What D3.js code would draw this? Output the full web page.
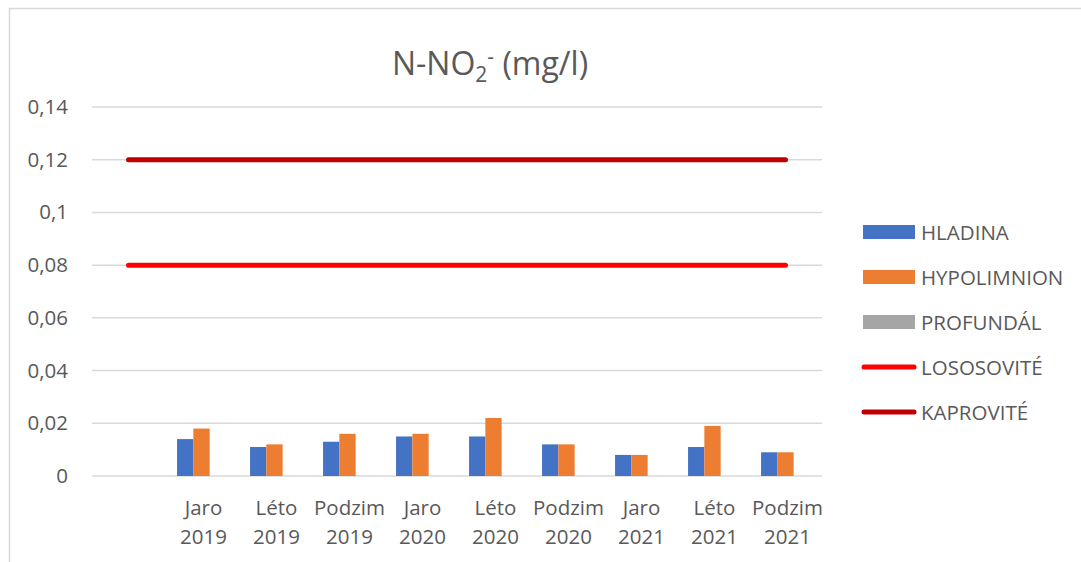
<!DOCTYPE html>
<html>
<head>
<meta charset="utf-8">
<script src="https://cdn.jsdelivr.net/npm/d3@7"></script>
<style>
  body { margin: 0; background: #fff; }
  svg { display: block; font-family: "Open Sans", sans-serif; }
</style>
</head>
<body>
<svg width="1081" height="562"></svg>
<script>
// categories (first one is an empty slot, as in the original sheet)
var categories = ["", "Jaro 2019", "Léto 2019", "Podzim 2019", "Jaro 2020", "Léto 2020",
                  "Podzim 2020", "Jaro 2021", "Léto 2021", "Podzim 2021"];
var hladina     = [null, 0.014, 0.011, 0.013, 0.015, 0.015, 0.012, 0.008, 0.011, 0.009];
var hypolimnion = [null, 0.018, 0.012, 0.016, 0.016, 0.022, 0.012, 0.008, 0.019, 0.009];
var profundal   = [null, 0, 0, 0, 0, 0, 0, 0, 0, 0];
var lososovite  = [0.08, 0.08, 0.08, 0.08, 0.08, 0.08, 0.08, 0.08, 0.08, 0.08];
var kaprovite   = [0.12, 0.12, 0.12, 0.12, 0.12, 0.12, 0.12, 0.12, 0.12, 0.12];
var yTicks = [0, 0.02, 0.04, 0.06, 0.08, 0.1, 0.12, 0.14];

var svg = d3.select("svg");

// outer chart border
svg.append("rect")
  .attr("x", 9.5).attr("y", 8.5)
  .attr("width", 1200).attr("height", 700)
  .attr("fill", "none").attr("stroke", "#d9d9d9").attr("stroke-width", 1.5);

var plotLeft = 92, plotRight = 822, plotTop = 107, plotBottom = 476;
var fontSize = 20.5;

var x = d3.scaleBand().domain(d3.range(categories.length)).range([plotLeft, plotRight]);
var y = d3.scaleLinear().domain([0, 0.14]).range([plotBottom, plotTop]);

var barSeries = [
  {name: "HLADINA", values: hladina, color: "#4472c4"},
  {name: "HYPOLIMNION", values: hypolimnion, color: "#ed7d31"},
  {name: "PROFUNDÁL", values: profundal, color: "#a5a5a5"}
];
var lineSeries = [
  {name: "LOSOSOVITÉ", values: lososovite, color: "#ff0000"},
  {name: "KAPROVITÉ", values: kaprovite, color: "#c00000"}
];

// bars within each category (gap width like excel's 150%)
var xInner = d3.scaleBand().domain(d3.range(barSeries.length))
  .range([0, x.bandwidth()]).paddingInner(0).paddingOuter(0.74);

//////////// GRID + Y AXIS ////////////
svg.append("g")
  .selectAll("line")
  .data(yTicks)
  .enter().append("line")
  .attr("x1", plotLeft).attr("x2", plotRight)
  .attr("y1", function(d) { return y(d); })
  .attr("y2", function(d) { return y(d); })
  .attr("stroke", "#d9d9d9").attr("stroke-width", 1.5);

var fmt = function(d) { return String(+d.toFixed(2)).replace(".", ","); };
var yAxis = svg.append("g")
  .attr("transform", "translate(" + (plotLeft - 24) + ",0)")
  .call(d3.axisLeft(y).tickValues(yTicks).tickFormat(fmt).tickSize(0).tickPadding(0));
yAxis.select(".domain").remove();
yAxis.selectAll("text")
  .attr("font-family", "Open Sans").attr("font-size", fontSize).attr("fill", "#595959");

//////////// BARS ////////////
barSeries.forEach(function(s, i) {
  svg.append("g")
    .selectAll("rect")
    .data(s.values.map(function(v, j) { return {v: v, j: j}; }).filter(function(d) { return d.v !== null; }))
    .enter().append("rect")
    .attr("x", function(d) { return x(d.j) + xInner(i); })
    .attr("width", xInner.bandwidth())
    .attr("y", function(d) { return y(d.v); })
    .attr("height", function(d) { return y(0) - y(d.v); })
    .attr("fill", s.color);
});

//////////// LINES ////////////
var line = d3.line()
  .x(function(d, j) { return x(j) + x.bandwidth() / 2; })
  .y(function(d) { return y(d); });
lineSeries.forEach(function(s) {
  svg.append("path")
    .datum(s.values)
    .attr("d", line)
    .attr("fill", "none")
    .attr("stroke", s.color).attr("stroke-width", 5)
    .attr("stroke-linecap", "round");
});

//////////// X LABELS ////////////
var xl = svg.append("g").attr("font-size", fontSize).attr("fill", "#595959").attr("text-anchor", "middle");
categories.forEach(function(c, j) {
  if (!c) return;
  var parts = c.split(" ");
  var cx = x(j) + x.bandwidth() / 2 + 2;
  var t = xl.append("text").attr("x", cx);
  t.append("tspan").attr("x", cx).attr("y", 515).text(parts[0]);
  t.append("tspan").attr("x", cx).attr("y", 544).text(parts[1]);
});

//////////// TITLE ////////////
var title = svg.append("text")
  .attr("x", 490).attr("y", 75)
  .attr("text-anchor", "middle")
  .attr("font-size", 32).attr("fill", "#595959");
title.append("tspan").text("N-NO");
title.append("tspan").attr("font-size", 21).attr("dy", 7).text("2");
title.append("tspan").attr("font-size", 21).attr("dy", -18).text("-");
title.append("tspan").attr("dy", 11).text(" (mg/l)");

//////////// LEGEND ////////////
var legend = svg.append("g");
var items = barSeries.concat(lineSeries);
items.forEach(function(s, i) {
  var cy = 232 + i * 45;
  if (i < barSeries.length) {
    legend.append("rect").attr("x", 863).attr("y", cy - 7).attr("width", 52).attr("height", 14).attr("fill", s.color);
  } else {
    legend.append("line").attr("x1", 864).attr("x2", 914).attr("y1", cy).attr("y2", cy)
      .attr("stroke", s.color).attr("stroke-width", 5).attr("stroke-linecap", "round");
  }
  legend.append("text").attr("x", 921).attr("y", cy + 7.5)
    .attr("font-size", fontSize).attr("fill", "#595959").text(s.name);
});
</script>
</body>
</html>
